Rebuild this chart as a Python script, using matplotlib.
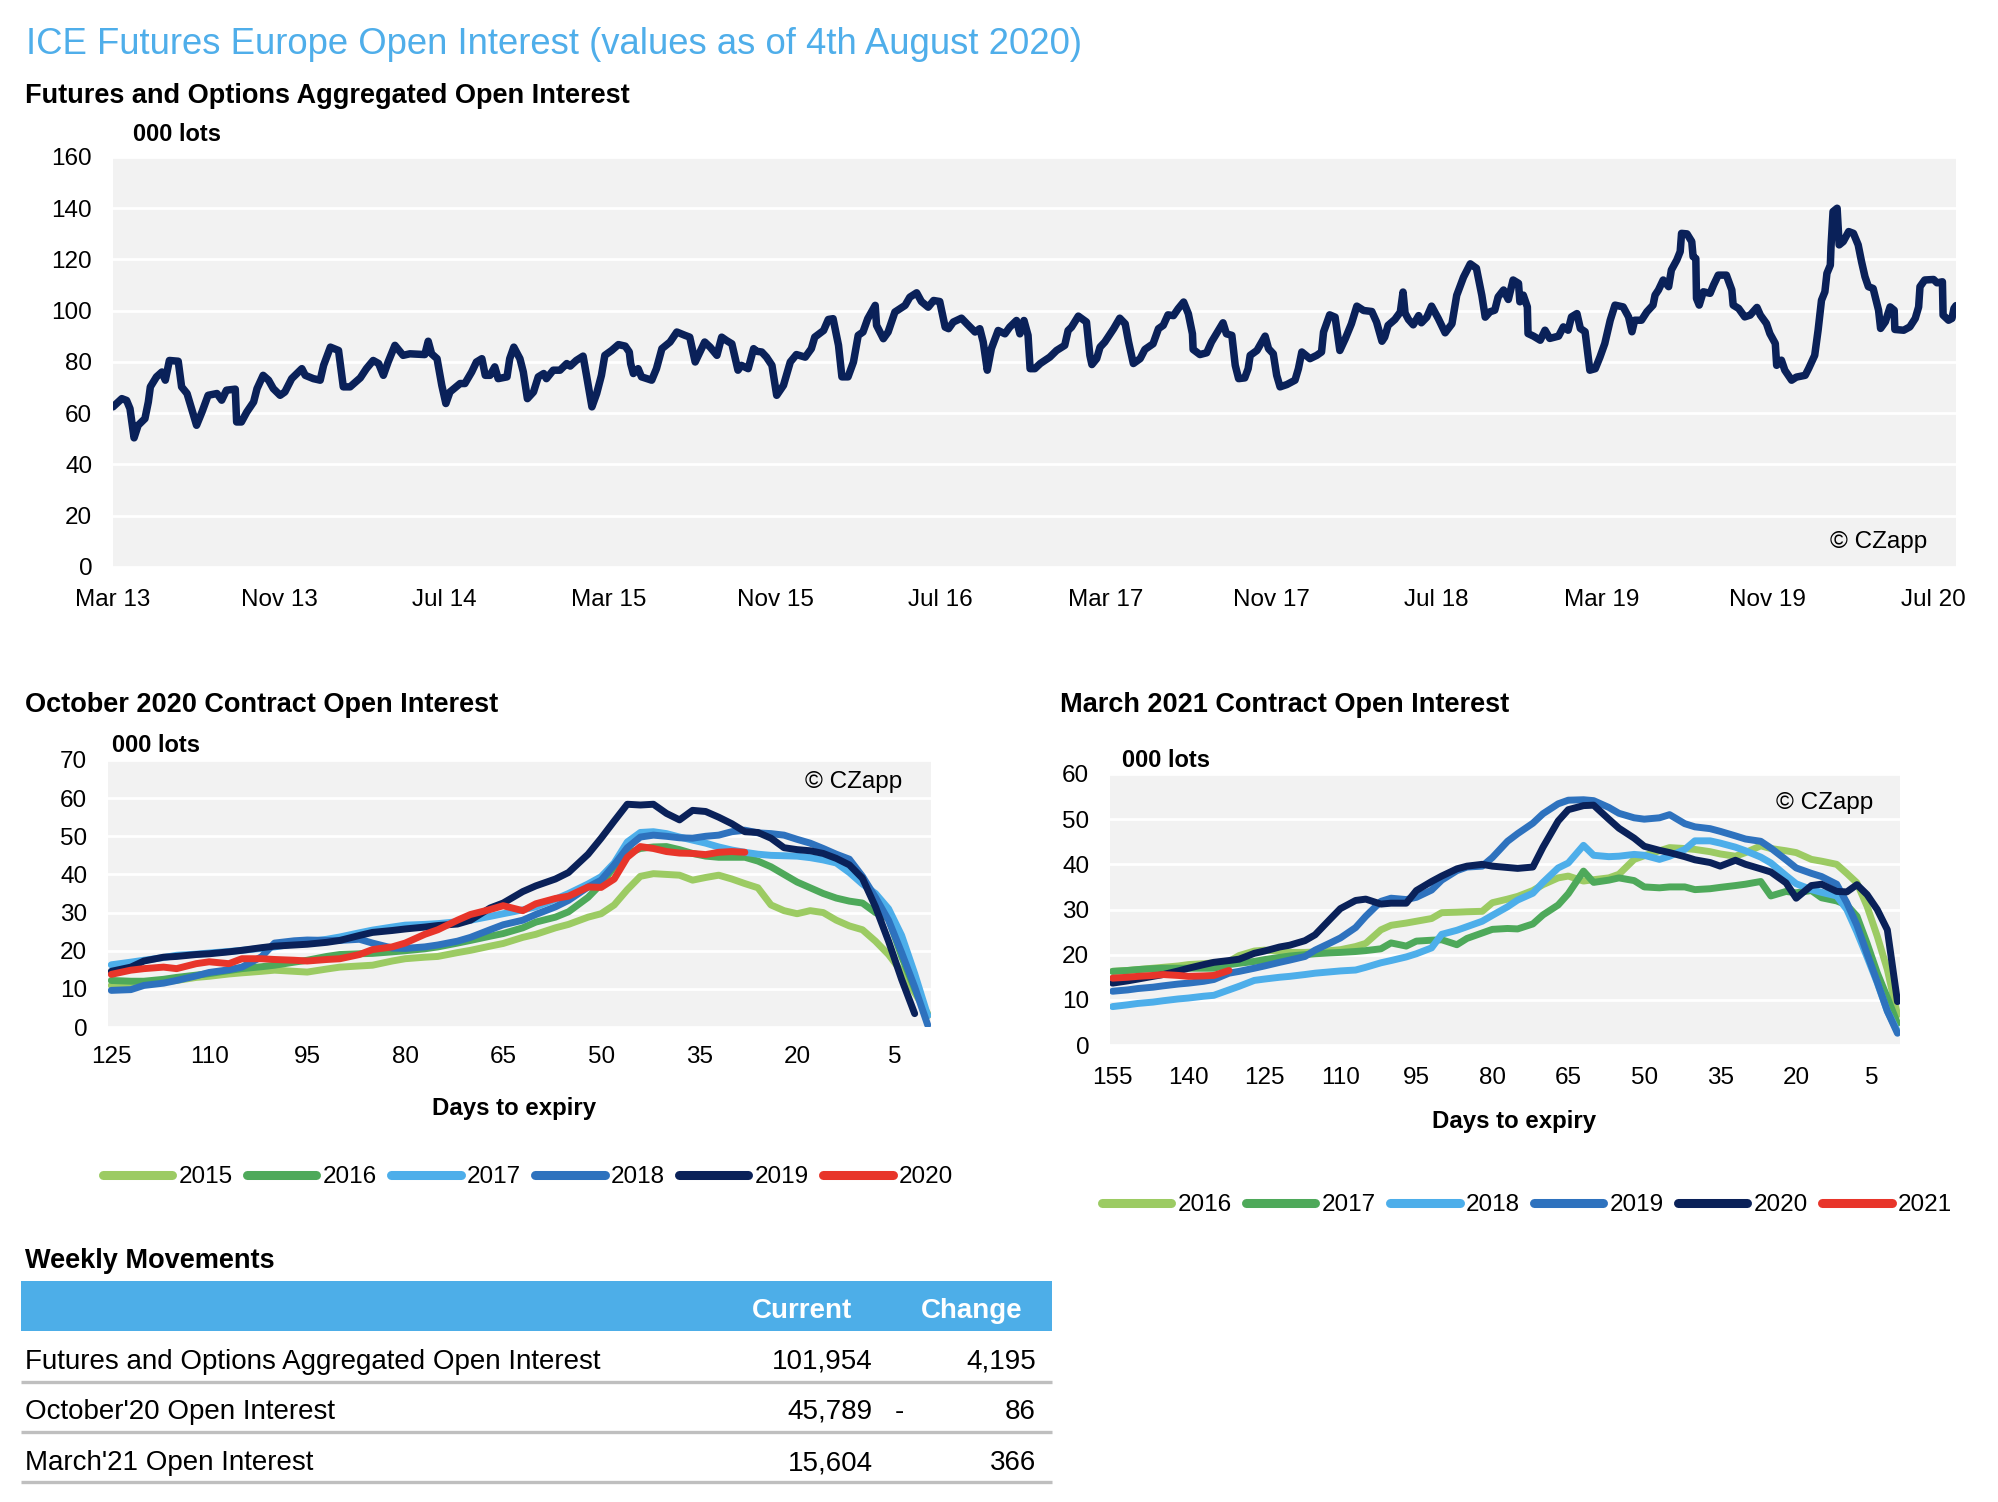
import numpy as np
import pandas as pd
import matplotlib
matplotlib.use("Agg")
import matplotlib.pyplot as plt
from matplotlib import font_manager
from matplotlib.patches import Rectangle

W, H = 1998, 1502

# ---- aggregated open interest (days since 1 Mar 2013, '000 lots) ----
seg1_days = [0, 13, 20, 25, 31, 37, 47, 52, 55, 64, 72, 77, 83, 96, 101, 109, 123, 131, 140, 153,
             160, 167, 180, 182, 189, 197, 207, 212, 221, 229, 236, 246, 253, 263, 278, 283, 295, 305, 310, 320,
             332, 339, 349, 364, 373, 383, 391, 398, 405, 415, 427, 437, 459, 464, 469, 477, 484, 490, 496, 511,
             518, 528, 535, 543, 548, 555, 562, 567, 580, 584, 590, 599, 604, 610, 619, 626, 634, 638, 648, 658, 668]
seg1_lots = [62.5, 65.7, 65.0, 61.8, 50.4, 55.3, 57.9, 64.4, 70.3, 74.2, 76.1, 72.9, 80.6, 80.3, 70.3, 67.7, 55.3, 60.5, 67.0, 67.7,
             65.1, 69.0, 69.4, 56.6, 56.6, 60.5, 64.4, 69.6, 74.8, 72.9, 69.6, 67.0, 68.3, 73.5, 77.4, 74.8, 73.5, 72.9, 78.7, 85.8,
             84.5, 70.3, 70.3, 73.8, 77.4, 80.6, 79.4, 74.8, 80.0, 86.5, 82.6, 83.2, 82.9, 88.1, 83.2, 81.3, 70.9, 63.8, 68.3, 71.6,
             71.6, 76.1, 80.0, 81.3, 74.8, 74.8, 78.1, 73.5, 74.2, 81.3, 85.8, 81.3, 76.1, 65.7, 68.3, 74.2, 75.5, 73.5, 76.8, 76.8, 79.4]

seg2_days = [673, 682, 692, 697, 705, 712, 719, 724, 734, 744, 754, 760, 762, 766, 773, 778, 793, 800, 808, 820,
             830, 842, 849, 857, 864, 871, 879, 889, 896, 903, 911, 920, 925, 935, 943, 947, 955, 962, 970, 977,
             987, 997, 1006, 1019, 1028, 1033, 1046, 1053, 1060, 1068, 1073, 1082, 1090, 1097, 1104, 1111, 1122, 1124, 1134, 1141,
             1151, 1166, 1173, 1183, 1190, 1200, 1208, 1217, 1225, 1230, 1237, 1249, 1257, 1269, 1276, 1281, 1287, 1293, 1303, 1313,
             1320, 1330, 1335, 1341, 1347, 1350, 1357, 1365]
seg2_lots = [78.4, 80.6, 82.3, 74.8, 62.5, 67.7, 74.8, 82.6, 84.5, 86.8, 86.2, 83.9, 79.4, 75.5, 77.4, 74.2, 72.9, 77.4, 85.2, 87.8,
             91.7, 90.4, 89.7, 80.0, 83.9, 87.8, 85.8, 82.6, 89.7, 88.4, 87.1, 76.8, 78.7, 77.4, 85.2, 84.2, 83.9, 81.9, 78.7, 67.0,
             70.9, 80.0, 82.9, 81.9, 85.2, 89.7, 92.3, 96.6, 96.9, 86.5, 74.2, 74.2, 80.0, 90.4, 91.7, 96.9, 102.1, 94.3, 89.1, 91.7,
             99.5, 102.1, 105.3, 107.0, 103.6, 101.4, 104.0, 103.6, 93.6, 93.0, 95.6, 97.1, 94.9, 91.7, 93.0, 87.8, 76.8, 85.2, 92.3, 91.0,
             93.6, 96.2, 91.0, 96.2, 90.4, 77.4, 77.4, 79.4]

seg3_days = [1379, 1389, 1401, 1406, 1411, 1421, 1433, 1438, 1441, 1448, 1453, 1460, 1473, 1482, 1490, 1495, 1502, 1512, 1519, 1531,
             1539, 1546, 1553, 1561, 1568, 1576, 1583, 1589, 1590, 1600, 1610, 1617, 1630, 1634, 1639, 1647, 1652, 1657, 1666, 1671,
             1674, 1684, 1691, 1696, 1701, 1708, 1713, 1718, 1728, 1740, 1745, 1750, 1762, 1772, 1779, 1782, 1791, 1799, 1806, 1814,
             1823, 1831, 1841, 1853, 1860, 1868, 1872, 1877, 1887, 1895, 1899, 1902, 1907, 1914, 1922, 1926, 1934, 1941, 1951, 1961,
             1971, 1978, 1988, 1998, 2007, 2015, 2020]
seg3_lots = [81.9, 84.5, 86.5, 92.3, 93.6, 97.9, 95.6, 82.6, 79.0, 81.3, 85.8, 87.8, 93.0, 97.1, 94.9, 87.8, 79.4, 81.3, 84.9, 87.1,
             93.0, 94.3, 98.4, 98.1, 100.8, 103.4, 98.8, 91.0, 84.9, 82.9, 83.6, 87.8, 93.6, 95.3, 91.0, 90.4, 78.7, 73.5, 73.8, 77.4,
             82.6, 84.5, 87.8, 90.1, 85.2, 83.2, 74.8, 70.3, 71.2, 72.9, 77.4, 83.9, 81.3, 82.6, 83.9, 91.7, 98.4, 97.5, 84.5, 89.1,
             94.9, 101.8, 100.1, 99.7, 95.6, 88.1, 89.7, 94.3, 96.6, 99.5, 107.3, 99.1, 96.6, 94.5, 98.1, 95.3, 97.5, 101.8, 96.9, 91.4,
             94.9, 106.0, 113.1, 118.3, 116.6, 106.0, 97.5]

seg4_days = [2027, 2034, 2039, 2047, 2054, 2061, 2069, 2071, 2076, 2082, 2083, 2091, 2101, 2108, 2115, 2128, 2135, 2142, 2147, 2155,
             2160, 2167, 2174, 2182, 2189, 2196, 2204, 2211, 2223, 2231, 2236, 2240, 2250, 2258, 2267, 2270, 2275, 2282, 2290, 2294,
             2302, 2307, 2309, 2317, 2324, 2326, 2330, 2331, 2335, 2341, 2351, 2356, 2363, 2375, 2383, 2385, 2393, 2402, 2410, 2420,
             2425, 2434, 2439, 2447, 2449, 2456, 2461, 2471, 2478, 2491, 2496, 2505, 2510, 2515, 2520, 2523, 2528, 2529, 2532, 2538,
             2541, 2547, 2555, 2562, 2569, 2574, 2579, 2584, 2591, 2599, 2602, 2609, 2616, 2622, 2623, 2636, 2645, 2653, 2658, 2660,
             2667, 2680, 2685, 2693, 2694, 2702, 2707, 2710, 2713]
seg4_lots = [99.6, 100.2, 105.4, 108.1, 104.4, 112.0, 110.7, 103.5, 106.1, 101.5, 91.1, 90.1, 88.5, 92.4, 89.2, 90.1, 93.7, 92.4, 97.6, 98.9,
             93.1, 91.8, 76.8, 77.4, 82.0, 87.2, 96.3, 102.2, 101.5, 97.6, 91.8, 96.3, 96.3, 99.6, 102.2, 106.1, 108.1, 112.0, 109.4, 115.9,
             119.8, 123.1, 130.2, 130.0, 127.0, 121.1, 120.4, 104.8, 102.2, 107.4, 106.8, 110.0, 113.9, 113.9, 108.1, 102.2, 100.9, 97.6, 98.3, 101.3,
             98.3, 95.0, 91.1, 87.2, 78.7, 80.7, 76.8, 72.9, 74.1, 74.8, 77.4, 82.6, 92.4, 104.1, 107.4, 114.6, 117.8, 125.0, 138.7, 140.0,
             125.7, 127.0, 130.9, 130.2, 125.7, 119.1, 113.3, 109.4, 108.7, 100.2, 93.1, 95.7, 101.5, 100.2, 92.7, 92.4, 93.7, 97.0, 101.5, 109.4,
             112.0, 112.2, 110.9, 111.3, 98.3, 96.3, 97.0, 100.9, 102.0]

agg_start = "2013-03-01"
agg_end = "2020-08-04"

# ---- October 2020 contract, days to expiry ----
nan = np.nan
oct_days = [125, 122, 120, 117, 115, 112, 110, 107, 105, 102, 100, 97, 95, 92, 90, 87, 85, 82, 80, 77,
            75, 72, 70, 67, 65, 62, 60, 57, 55, 52, 50, 48, 46, 44, 42, 40, 38, 36, 34, 32,
            30, 28, 26, 24, 22, 20, 18, 16, 14, 12, 10, 8, 6, 4, 2, 0]
oct_years = ["2015", "2016", "2017", "2018", "2019", "2020"]
oct_2015 = [10.9, 11.2, 11.4, 11.9, 12.2, 13.0, 13.3, 13.9, 14.2, 14.6, 14.9, 14.6, 14.4, 15.2, 15.7, 16.0, 16.2, 17.3, 17.9, 18.3,
            18.5, 19.5, 20.1, 21.2, 21.9, 23.5, 24.3, 26.0, 26.9, 28.8, 29.7, 32.0, 36.0, 39.5, 40.2, 40.0, 39.8, 38.5, 39.2, 39.8,
            38.8, 37.6, 36.5, 32.0, 30.5, 29.7, 30.5, 30.0, 28.0, 26.5, 25.5, 22.5, 19.0, 14.5, 9.0, 3.5]
oct_2016 = [12.2, 12.0, 12.0, 12.5, 13.0, 13.6, 14.0, 14.8, 15.3, 15.8, 16.2, 17.0, 17.5, 18.5, 19.0, 19.2, 19.3, 19.7, 20.0, 20.5,
            21.0, 22.0, 22.7, 23.8, 24.5, 26.0, 27.5, 28.8, 30.2, 34.0, 37.5, 42.0, 45.5, 46.8, 47.2, 47.3, 46.5, 45.5, 44.8, 44.5,
            44.5, 44.5, 43.5, 42.0, 40.0, 38.0, 36.5, 35.0, 33.8, 33.0, 32.5, 30.0, 28.5, 18.5, 10.0, 3.0]
oct_2017 = [16.3, 17.0, 17.5, 18.2, 18.8, 19.1, 19.4, 19.8, 20.1, 20.6, 21.0, 21.8, 22.3, 23.0, 23.6, 24.7, 25.4, 26.2, 26.7, 26.9,
            27.1, 27.6, 28.0, 29.0, 29.7, 30.7, 31.5, 33.5, 35.0, 37.5, 39.4, 43.0, 48.5, 51.0, 51.2, 50.7, 49.8, 49.0, 48.2, 47.2,
            46.4, 45.8, 45.3, 45.0, 44.9, 44.8, 44.4, 43.8, 43.0, 40.5, 37.5, 35.0, 31.0, 24.0, 14.0, 3.0]
oct_2018 = [9.6, 9.8, 10.9, 11.5, 12.2, 13.4, 14.3, 15.0, 15.7, 18.4, 22.0, 22.6, 22.8, 22.7, 22.7, 23.0, 22.0, 20.7, 20.6, 21.0,
            21.5, 22.5, 23.5, 25.5, 26.8, 28.0, 29.5, 31.5, 33.2, 36.7, 38.5, 42.5, 47.0, 49.8, 50.3, 50.0, 49.6, 49.5, 50.0, 50.3,
            51.2, 51.6, 50.9, 50.7, 50.3, 49.2, 48.2, 46.8, 45.3, 44.0, 39.5, 34.0, 28.0, 19.5, 10.5, 0.5]
oct_2019 = [14.6, 15.7, 17.3, 18.3, 18.5, 19.0, 19.2, 19.7, 20.1, 20.8, 21.2, 21.5, 21.7, 22.2, 22.7, 24.0, 24.8, 25.3, 25.7, 26.2,
            26.6, 27.0, 28.0, 31.2, 32.5, 35.5, 37.0, 38.8, 40.5, 45.3, 49.5, 54.0, 58.4, 58.2, 58.4, 56.0, 54.3, 56.8, 56.5, 55.0,
            53.3, 51.2, 51.0, 49.5, 47.0, 46.5, 46.2, 45.5, 44.2, 42.5, 39.0, 31.5, 22.5, 12.5, 3.5, nan]
oct_2020 = [13.8, 14.9, 15.3, 15.7, 15.3, 16.6, 17.1, 16.6, 17.9, 17.9, 17.7, 17.5, 17.3, 17.7, 17.9, 19.0, 20.3, 21.0, 22.0, 24.3,
            25.5, 28.0, 29.5, 30.8, 31.8, 30.5, 32.3, 33.7, 34.3, 36.7, 36.6, 38.8, 44.5, 47.3, 46.8, 46.0, 45.6, 45.5, 45.2, 45.8,
            46.0, 45.8, nan, nan, nan, nan, nan, nan, nan, nan, nan, nan, nan, nan, nan, nan]

# ---- March 2021 contract, days to expiry ----
mar_days = [155, 152, 150, 147, 145, 142, 140, 137, 135, 132, 130, 127, 125, 122, 120, 117, 115, 112, 110, 107,
            105, 102, 100, 97, 95, 92, 90, 87, 85, 82, 80, 77, 75, 72, 70, 67, 65, 62, 60, 57,
            55, 52, 50, 47, 45, 42, 40, 37, 35, 32, 30, 27, 25, 22, 20, 17, 15, 12, 10, 8, 6, 4, 2, 0]
mar_years = ["2016", "2017", "2018", "2019", "2020", "2021"]
mar_2016 = [16.3, 16.5, 16.7, 17.0, 17.2, 17.5, 17.8, 18.0, 18.2, 18.5, 19.8, 20.8, 21.0, 20.8, 20.5, 20.5, 20.6, 20.9, 21.1, 21.8,
            22.5, 25.5, 26.5, 27.0, 27.4, 28.0, 29.3, 29.4, 29.5, 29.6, 31.5, 32.3, 32.9, 34.2, 35.5, 37.0, 37.4, 36.3, 36.6, 37.0,
            37.8, 41.1, 41.9, 43.0, 43.7, 43.5, 43.3, 42.8, 42.3, 41.8, 42.6, 44.1, 43.5, 43.0, 42.6, 41.1, 40.7, 40.0, 38.0, 35.9,
            30.7, 24.1, 16.7, 6.7]
mar_2017 = [16.3, 16.5, 16.7, 16.9, 17.0, 17.0, 17.0, 17.0, 17.0, 17.8, 18.1, 18.5, 18.9, 19.4, 19.7, 20.0, 20.2, 20.4, 20.5, 20.7,
            20.9, 21.3, 22.6, 21.9, 23.0, 23.2, 23.3, 22.2, 23.6, 24.8, 25.6, 25.8, 25.7, 26.8, 28.8, 31.0, 33.5, 38.5, 36.0, 36.5,
            37.0, 36.4, 35.0, 34.8, 35.0, 35.0, 34.4, 34.6, 34.9, 35.3, 35.6, 36.2, 33.0, 34.0, 33.7, 34.2, 32.6, 31.9, 31.0, 28.5,
            22.5, 16.0, 10.5, 4.8]
mar_2018 = [8.5, 8.9, 9.2, 9.5, 9.8, 10.2, 10.4, 10.8, 11.0, 12.2, 13.0, 14.3, 14.6, 15.0, 15.2, 15.6, 15.9, 16.2, 16.4, 16.6,
            17.2, 18.2, 18.7, 19.5, 20.2, 21.5, 24.5, 25.4, 26.2, 27.4, 28.7, 30.6, 32.1, 33.6, 36.0, 39.2, 40.3, 44.2, 42.0, 41.7,
            41.8, 42.2, 42.0, 41.1, 41.8, 43.3, 45.2, 45.2, 44.7, 43.8, 43.0, 41.6, 40.3, 37.5, 35.7, 34.4, 33.8, 33.0, 30.0, 25.0,
            19.5, 13.8, 7.5, 3.0]
mar_2019 = [11.9, 12.2, 12.5, 12.8, 13.1, 13.5, 13.7, 14.1, 14.5, 15.9, 16.3, 17.0, 17.5, 18.3, 18.8, 19.6, 21.0, 22.6, 23.7, 26.0,
            28.5, 31.8, 32.5, 32.2, 32.7, 34.3, 36.5, 38.6, 39.4, 39.6, 41.5, 45.1, 46.8, 49.1, 51.2, 53.4, 54.2, 54.3, 54.1, 52.6,
            51.3, 50.3, 50.0, 50.3, 51.0, 49.0, 48.3, 47.9, 47.3, 46.3, 45.6, 45.1, 43.6, 41.0, 39.2, 38.0, 37.3, 35.6, 31.5, 26.5,
            20.2, 14.0, 7.5, 2.6]
mar_2020 = [13.7, 14.2, 14.6, 15.2, 15.6, 16.4, 17.0, 17.8, 18.3, 18.7, 19.0, 20.3, 20.8, 21.7, 22.1, 23.1, 24.4, 27.9, 30.2, 32.0,
            32.3, 31.2, 31.4, 31.4, 34.2, 36.2, 37.4, 39.0, 39.6, 40.0, 39.6, 39.3, 39.1, 39.4, 43.8, 49.6, 52.1, 53.0, 53.1, 50.0,
            48.0, 45.8, 44.0, 43.1, 42.6, 41.7, 41.0, 40.4, 39.6, 40.9, 40.0, 39.0, 38.3, 35.9, 32.5, 35.3, 35.6, 34.0, 33.9, 35.5,
            33.3, 30.0, 25.5, 9.6]
mar_2021 = [14.8, 15.0, 15.2, 15.4, 15.6, 15.4, 15.2, 15.3, 15.4, 16.5] + [nan] * 54

# ---- weekly movements table ----
table_labels = ["Futures and Options Aggregated Open Interest", "October'20 Open Interest", "March'21 Open Interest"]
table_current = [101954, 45789, 15604]
table_change = [4195, -86, 366]

colors = ["#9CCB63", "#4EA95A", "#4DAEEA", "#2E72BE", "#0A2159", "#E8352A"]
NAVY = "#0A2159"
GRID_BG = "#F2F2F2"
TITLE_BLUE = "#4FAEEA"

have = {f.name for f in font_manager.fontManager.ttflist}
NARROW = "Liberation Sans Narrow" in have

plt.rcParams["font.family"] = ["Liberation Sans", "DejaVu Sans"]

fig = plt.figure(figsize=(W / 100, H / 100), dpi=100)


def box(x0, y0, x1, y1):
    return [x0 / W, 1 - y1 / H, (x1 - x0) / W, (y1 - y0) / H]


def style(ax, ymax, ystep, xpad):
    ax.set_facecolor(GRID_BG)
    for s in ax.spines.values():
        s.set_visible(False)
    ax.set_ylim(0, ymax)
    ax.set_yticks(np.arange(0, ymax + 1, ystep))
    ax.grid(axis="y", color="white", linewidth=2)
    ax.set_axisbelow(True)
    ax.tick_params(axis="both", length=0, labelsize=17.5)
    ax.tick_params(axis="y", pad=15)
    ax.tick_params(axis="x", pad=xpad)


# top chart
ax1 = fig.add_axes(box(113, 157, 1956, 567))
agg_days = seg1_days + seg2_days + seg3_days + seg4_days
agg_lots = seg1_lots + seg2_lots + seg3_lots + seg4_lots
dates = pd.Timestamp(agg_start) + pd.to_timedelta(agg_days, unit="D")
ax1.plot(dates, agg_lots, color=NAVY, lw=5.4, solid_joinstyle="round", solid_capstyle="round")
style(ax1, 160, 20, 15.5)
ax1.set_xlim(pd.Timestamp(agg_start), pd.Timestamp(agg_end))
ticks = pd.date_range(agg_start, "2020-07-01", freq="8MS")
ax1.set_xticks(ticks)
ax1.set_xticklabels([t.strftime("%b %y") for t in ticks])

# october chart
ax2 = fig.add_axes(box(108, 760, 931, 1027))
for yr, vals, c in zip(oct_years, [oct_2015, oct_2016, oct_2017, oct_2018, oct_2019, oct_2020], colors):
    ax2.plot(oct_days, vals, color=c, lw=5.0, label=yr, solid_joinstyle="round", solid_capstyle="round")
style(ax2, 70, 10, 14)
ax2.set_xlim(125.5, -0.5)
ax2.set_xticks(range(125, 0, -15))

# march chart
ax3 = fig.add_axes(box(1110, 774, 1900, 1045))
for yr, vals, c in zip(mar_years, [mar_2016, mar_2017, mar_2018, mar_2019, mar_2020, mar_2021], colors):
    ax3.plot(mar_days, vals, color=c, lw=5.0, label=yr, solid_joinstyle="round", solid_capstyle="round")
style(ax3, 60, 10, 16)
ax3.set_xlim(155.5, -0.5)
ax3.set_xticks(range(155, 0, -15))

for ax, cx, cy in [(ax2, 528, 1177), (ax3, 1527, 1205)]:
    leg = ax.legend(loc="center", bbox_to_anchor=(cx / W, 1 - cy / H), bbox_transform=fig.transFigure,
                    ncol=6, frameon=False, fontsize=17.5, handlelength=2.85, handletextpad=0.25,
                    columnspacing=0.6)
    for h in leg.legend_handles:
        h.set_linewidth(6.5)

# overlay for text and table (pixel coordinates)
lay = fig.add_axes([0, 0, 1, 1])
lay.set_xlim(0, W)
lay.set_ylim(H, 0)
lay.axis("off")

title = "ICE Futures Europe Open Interest (values as of 4th August 2020)"
if NARROW:
    lay.text(26, 53, title, family="Liberation Sans Narrow", fontsize=32, color=TITLE_BLUE, va="baseline")
else:
    lay.text(26, 54, title, fontsize=26.3, color=TITLE_BLUE, va="baseline")

bold = dict(fontweight="bold", va="baseline")
lay.text(25, 103, "Futures and Options Aggregated Open Interest", fontsize=19.5, **bold)
lay.text(25, 712, "October 2020 Contract Open Interest", fontsize=19.5, **bold)
lay.text(1060, 712, "March 2021 Contract Open Interest", fontsize=19.5, **bold)
lay.text(25, 1268, "Weekly Movements", fontsize=19.5, **bold)

for x, y in [(133, 141), (112, 752), (1122, 767)]:
    lay.text(x, y, "000 lots", fontsize=17, **bold)
for x, y in [(514, 1115), (1514, 1128)]:
    lay.text(x, y, "Days to expiry", fontsize=17.3, ha="center", **bold)

for x, y in [(1927, 542), (902, 782), (1873, 803)]:
    if NARROW:
        lay.text(x, y, "\u00a9 CZapp", family="Liberation Sans Narrow", fontsize=20.5, ha="right", va="center")
    else:
        lay.text(x, y, "\u00a9 CZapp", fontsize=17.5, ha="right", va="center")

# table
lay.add_patch(Rectangle((21, 1281), 1031, 50, color="#4DAEE8", lw=0))
lay.text(852, 1318, "Current", fontsize=20, color="white", ha="right", **bold)
lay.text(1023, 1318, "Change", fontsize=20, color="white", ha="right", **bold)
row_base = [1369, 1419, 1470]
row_rule = [1382, 1432, 1482]
lay.hlines(row_rule, 21, 1052, color="#BFBFBF", lw=2.4)
for yb, lab, cur, chg in zip(row_base, table_labels, table_current, table_change):
    lay.text(25, yb, lab, fontsize=20, va="baseline")
    lay.text(873, yb, f"{cur:,}", fontsize=20, ha="right", va="baseline")
    lay.text(1036, yb, f"{abs(chg):,}", fontsize=20, ha="right", va="baseline")
    if chg < 0:
        lay.text(899, yb, "-", fontsize=20, ha="center", va="baseline")

fig.savefig("out.png", dpi=100)
